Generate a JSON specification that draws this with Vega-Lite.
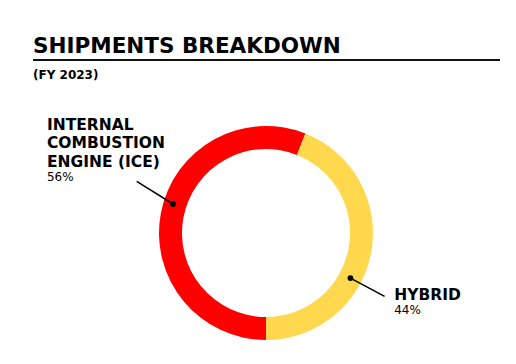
{
  "$schema": "https://vega.github.io/schema/vega-lite/v6.json",
  "width": 468,
  "height": 262,
  "autosize": "none",
  "padding": {"left": 32, "top": 102, "right": 16, "bottom": 0},
  "background": "white",
  "config": {"view": {"stroke": null}},
  "title": {
    "text": "SHIPMENTS BREAKDOWN",
    "subtitle": "(FY 2023)",
    "anchor": "start",
    "frame": "group",
    "orient": "top",
    "offset": -22,
    "font": "DejaVu Sans",
    "fontSize": 21.5,
    "fontWeight": "bold",
    "color": "#000000",
    "subtitleFont": "DejaVu Sans",
    "subtitleFontSize": 12,
    "subtitleFontWeight": "bold",
    "subtitleColor": "#000000",
    "subtitlePadding": 13,
    "dx": 1
  },
  "datasets": {
    "shares": [
      {"segment": "Internal Combustion Engine (ICE)", "label": "INTERNAL\nCOMBUSTION\nENGINE (ICE)", "share": 0.56},
      {"segment": "Hybrid", "label": "HYBRID", "share": 0.44}
    ]
  },
  "data": {"name": "shares"},
  "layer": [
    {
      "mark": {"type": "arc", "outerRadius": 107, "innerRadius": 84},
      "encoding": {
        "theta": {"field": "share", "type": "quantitative", "stack": true, "scale": {"range": [3.14159265, 9.42477796]}},
        "order": {"field": "share", "sort": "descending"},
        "color": {"field": "segment", "type": "nominal", "scale": {"domain": ["Internal Combustion Engine (ICE)", "Hybrid"], "range": ["#FF0000", "#FFD84D"]}, "legend": null}
      }
    },
    {
      "transform": [{"filter": "datum.segment === 'Hybrid'"}],
      "mark": {"type": "rule", "strokeWidth": 2, "color": "#111111"},
      "encoding": {
        "x": {"datum": -2.18, "type": "quantitative", "scale": {"domain": [-2.19, 2.19], "nice": false, "zero": false}, "axis": null},
        "x2": {"datum": 2.19},
        "y": {"datum": 1.61, "type": "quantitative", "scale": {"domain": [-1.22, 1.22], "nice": false, "zero": false}, "axis": null}
      }
    },
    {
      "transform": [{"filter": "datum.segment === 'Internal Combustion Engine (ICE)'"}],
      "layer": [
        {
          "mark": {"type": "rule", "strokeWidth": 1.5, "color": "#000000"},
          "encoding": {
            "x": {"datum": -0.87, "type": "quantitative"},
            "y": {"datum": 0.27, "type": "quantitative"},
            "x2": {"datum": -1.21},
            "y2": {"datum": 0.48}
          }
        },
        {
          "mark": {"type": "circle", "size": 34, "color": "#000000", "opacity": 1},
          "encoding": {
            "x": {"datum": -0.87, "type": "quantitative"},
            "y": {"datum": 0.27, "type": "quantitative"}
          }
        },
        {
          "mark": {"type": "text", "align": "left", "baseline": "alphabetic", "lineBreak": "\n", "lineHeight": 18.5, "font": "DejaVu Sans", "fontSize": 15.5, "fontWeight": "bold", "color": "#000000"},
          "encoding": {
            "x": {"datum": -2.05, "type": "quantitative"},
            "y": {"datum": 0.96, "type": "quantitative"},
            "text": {"field": "label"}
          }
        },
        {
          "mark": {"type": "text", "align": "left", "baseline": "alphabetic", "font": "DejaVu Sans", "fontSize": 12, "color": "#000000"},
          "encoding": {
            "x": {"datum": -2.05, "type": "quantitative"},
            "y": {"datum": 0.48, "type": "quantitative"},
            "text": {"field": "share", "type": "quantitative", "format": ".0%"}
          }
        }
      ]
    },
    {
      "transform": [{"filter": "datum.segment === 'Hybrid'"}],
      "layer": [
        {
          "mark": {"type": "rule", "strokeWidth": 1.5, "color": "#000000"},
          "encoding": {
            "x": {"datum": 0.79, "type": "quantitative"},
            "y": {"datum": -0.42, "type": "quantitative"},
            "x2": {"datum": 1.11},
            "y2": {"datum": -0.59}
          }
        },
        {
          "mark": {"type": "circle", "size": 34, "color": "#000000", "opacity": 1},
          "encoding": {
            "x": {"datum": 0.79, "type": "quantitative"},
            "y": {"datum": -0.42, "type": "quantitative"}
          }
        },
        {
          "mark": {"type": "text", "align": "left", "baseline": "alphabetic", "font": "DejaVu Sans", "fontSize": 15.5, "fontWeight": "bold", "color": "#000000"},
          "encoding": {
            "x": {"datum": 1.2, "type": "quantitative"},
            "y": {"datum": -0.62, "type": "quantitative"},
            "text": {"field": "label"}
          }
        },
        {
          "mark": {"type": "text", "align": "left", "baseline": "alphabetic", "font": "DejaVu Sans", "fontSize": 12, "color": "#000000"},
          "encoding": {
            "x": {"datum": 1.2, "type": "quantitative"},
            "y": {"datum": -0.75, "type": "quantitative"},
            "text": {"field": "share", "type": "quantitative", "format": ".0%"}
          }
        }
      ]
    }
  ]
}
